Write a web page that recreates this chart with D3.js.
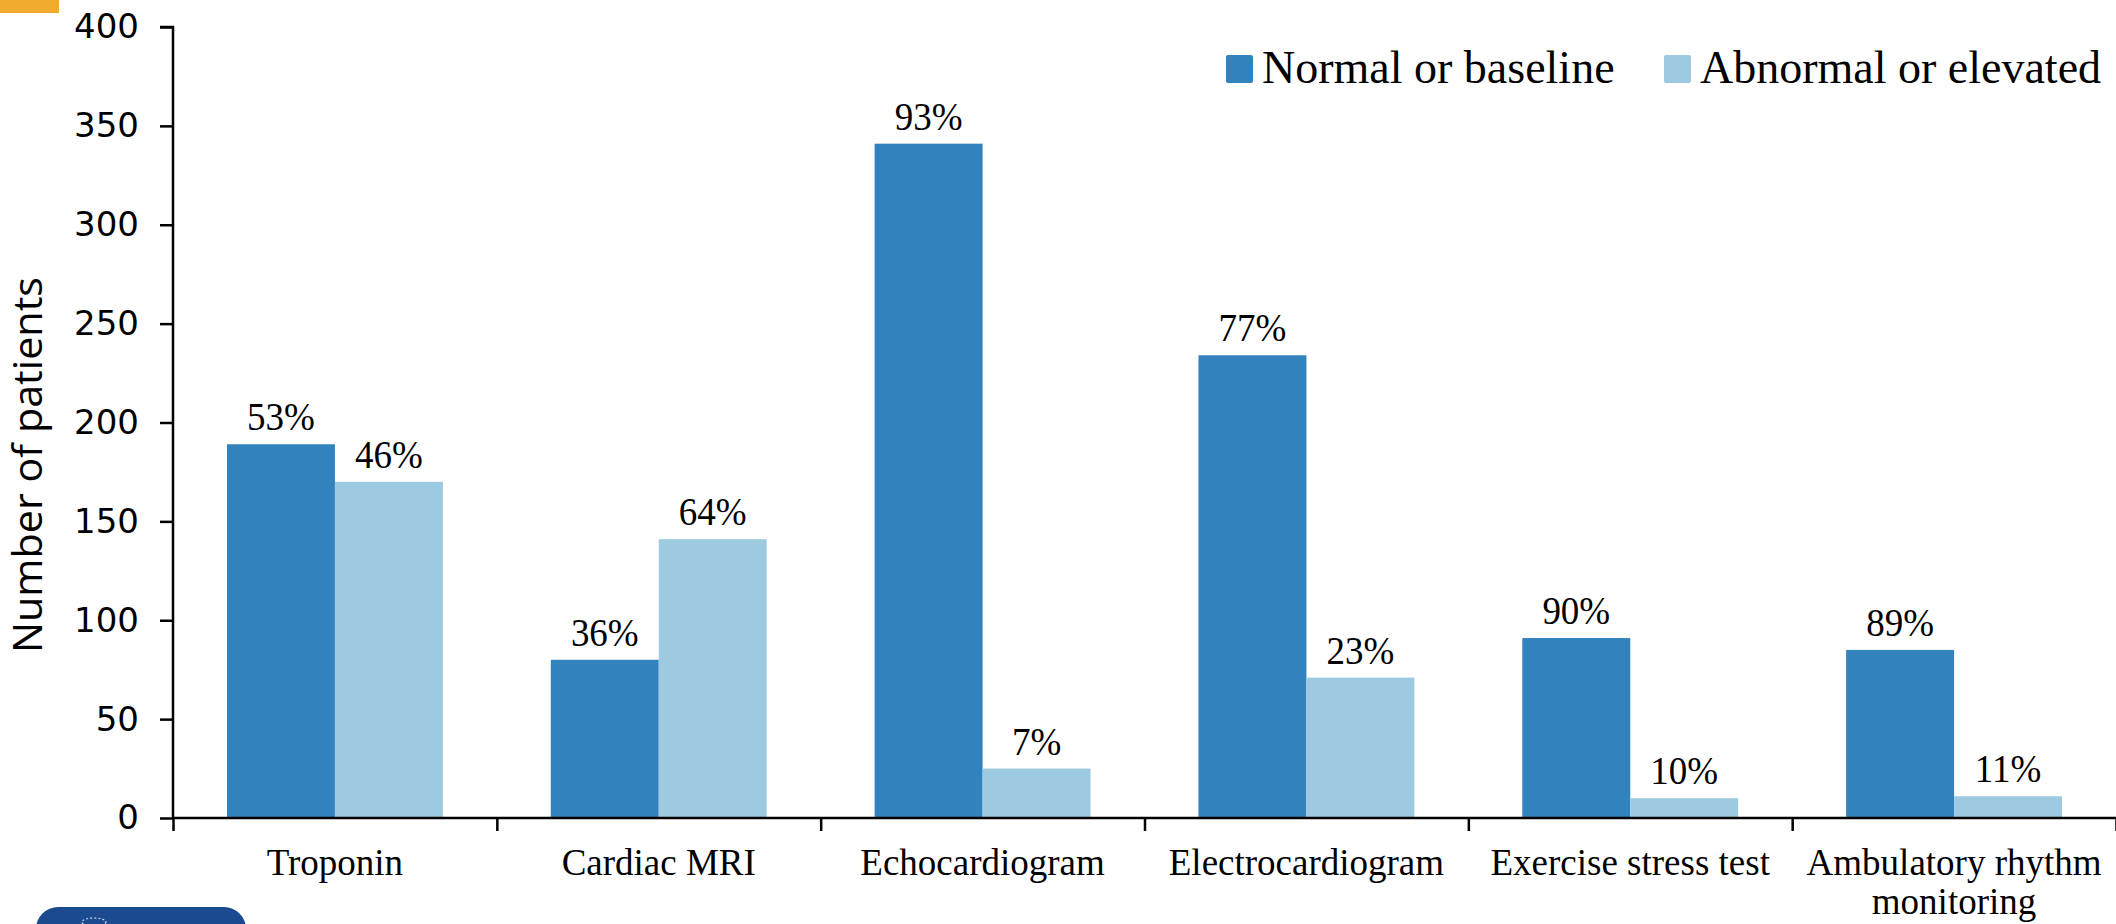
<!DOCTYPE html>
<html>
<head>
<meta charset="utf-8">
<script src="https://cdn.jsdelivr.net/npm/d3@7"></script>
<style>
  html, body { margin: 0; padding: 0; background: #fff; }
  svg { display: block; }
</style>
</head>
<body>
<svg id="chart" width="2116" height="924"></svg>
<script>
// Test results by category: patient counts and the share shown above each bar
const categories = ["Troponin", "Cardiac MRI", "Echocardiogram", "Electrocardiogram", "Exercise stress test", "Ambulatory rhythm monitoring"];
const seriesNames = ["Normal or baseline", "Abnormal or elevated"];
const normalCounts = [189, 80, 341, 234, 91, 85];
const abnormalCounts = [170, 141, 25, 71, 10, 11];
const normalPct = ["53%", "36%", "93%", "77%", "90%", "89%"];
const abnormalPct = ["46%", "64%", "7%", "23%", "10%", "11%"];
const yTicks = [0, 50, 100, 150, 200, 250, 300, 350, 400];

const colors = { "Normal or baseline": "#3182bd", "Abnormal or elevated": "#9ecae1" };
const serif = "'Liberation Serif', 'Times New Roman', serif";

const svg = d3.select("#chart");
const plot = { left: 173, right: 2116, top: 27, bottom: 818 };

// corner decorations of the slide
svg.append("rect").attr("x", 0).attr("y", 0).attr("width", 59).attr("height", 13).attr("fill", "#f0aa2e");
svg.append("rect").attr("x", 36).attr("y", 907).attr("width", 210).attr("height", 60).attr("rx", 22).attr("fill", "#1b4a8f");
svg.append("ellipse").attr("cx", 94).attr("cy", 922).attr("rx", 12).attr("ry", 4).attr("fill", "none")
  .attr("stroke", "#c9d6ea").attr("stroke-width", 1.2).attr("stroke-dasharray", "2 2");

const rows = categories.map((c, i) => ({
  category: c,
  values: [
    { series: seriesNames[0], value: normalCounts[i], pct: normalPct[i] },
    { series: seriesNames[1], value: abnormalCounts[i], pct: abnormalPct[i] }
  ]
}));

const x0 = d3.scaleBand().domain(categories).range([plot.left, plot.right]).padding(0);
const x1 = d3.scaleBand().domain(seriesNames).range([0, x0.bandwidth()]).paddingInner(0).paddingOuter(0.5);
const y = d3.scaleLinear().domain([0, 400]).range([plot.bottom, plot.top]);

// bars
const groups = svg.append("g").selectAll("g").data(rows).join("g")
  .attr("transform", d => `translate(${x0(d.category)},0)`);

groups.selectAll("rect").data(d => d.values).join("rect")
  .attr("x", d => x1(d.series))
  .attr("y", d => y(d.value))
  .attr("width", x1.bandwidth())
  .attr("height", d => y(0) - y(d.value))
  .attr("fill", d => colors[d.series]);

// percentage labels above the bars
groups.selectAll("text").data(d => d.values).join("text")
  .attr("transform", d => `translate(${x1(d.series) + x1.bandwidth() / 2},${y(d.value) - 14}) scale(1,1.08)`)
  .attr("text-anchor", "middle")
  .attr("font-family", serif)
  .attr("font-size", 37)
  .attr("fill", "#000")
  .text(d => d.pct);

// y axis
const yAxis = svg.append("g").attr("transform", `translate(${plot.left},0)`)
  .call(d3.axisLeft(y).tickValues(yTicks).tickSize(13).tickPadding(21));
yAxis.select(".domain").attr("stroke", "#000").attr("stroke-width", 2.5)
  .attr("d", `M-13,${y(400)}H0V${y(0)}`);
yAxis.selectAll(".tick line").attr("stroke", "#000").attr("stroke-width", 2.5);
yAxis.selectAll(".tick text")
  .attr("font-family", "'DejaVu Sans', sans-serif")
  .attr("font-size", 34)
  .attr("fill", "#000");

// x axis: ticks at category boundaries
const xb = d3.scaleLinear().domain([0, categories.length]).range([plot.left, plot.right]);
const xAxis = svg.append("g").attr("transform", `translate(0,${plot.bottom})`)
  .call(d3.axisBottom(xb).tickValues(d3.range(categories.length + 1)).tickSize(13).tickFormat(""));
xAxis.select(".domain").attr("stroke", "#000").attr("stroke-width", 2.5)
  .attr("d", `M${plot.left},0H${plot.right}`);
xAxis.selectAll(".tick line").attr("stroke", "#000").attr("stroke-width", 2.5);

// category labels, wrapped to the band width
const catLabels = svg.append("g");
categories.forEach(c => {
  const cx = x0(c) + x0.bandwidth() / 2;
  const t = catLabels.append("text")
    .attr("x", cx)
    .attr("y", 875)
    .attr("text-anchor", "middle")
    .attr("font-family", serif)
    .attr("font-size", 37)
    .attr("fill", "#000");
  const words = c.split(" ");
  let line = [];
  let tspan = t.append("tspan").attr("x", cx).attr("dy", 0);
  words.forEach(w => {
    line.push(w);
    tspan.text(line.join(" "));
    if (tspan.node().getComputedTextLength() > x0.bandwidth() - 8 && line.length > 1) {
      line.pop();
      tspan.text(line.join(" "));
      line = [w];
      tspan = t.append("tspan").attr("x", cx).attr("dy", 39).text(w);
    }
  });
});

// y axis title
svg.append("text")
  .attr("transform", `translate(42,465) rotate(-90)`)
  .attr("text-anchor", "middle")
  .attr("font-family", "'Open Sans', 'Liberation Sans', sans-serif")
  .attr("font-size", 40)
  .attr("textLength", 376)
  .attr("lengthAdjust", "spacingAndGlyphs")
  .attr("fill", "#000")
  .text("Number of patients");

// legend
const legendX = [1226, 1664];
const legend = svg.append("g");
seriesNames.forEach((s, i) => {
  legend.append("rect").attr("x", legendX[i]).attr("y", 55).attr("width", 27).attr("height", 28)
    .attr("rx", 2).attr("fill", colors[s]);
  legend.append("text").attr("x", legendX[i] + 36).attr("y", 83)
    .attr("font-family", serif).attr("font-size", 46).attr("fill", "#000").text(s);
});
</script>
</body>
</html>
